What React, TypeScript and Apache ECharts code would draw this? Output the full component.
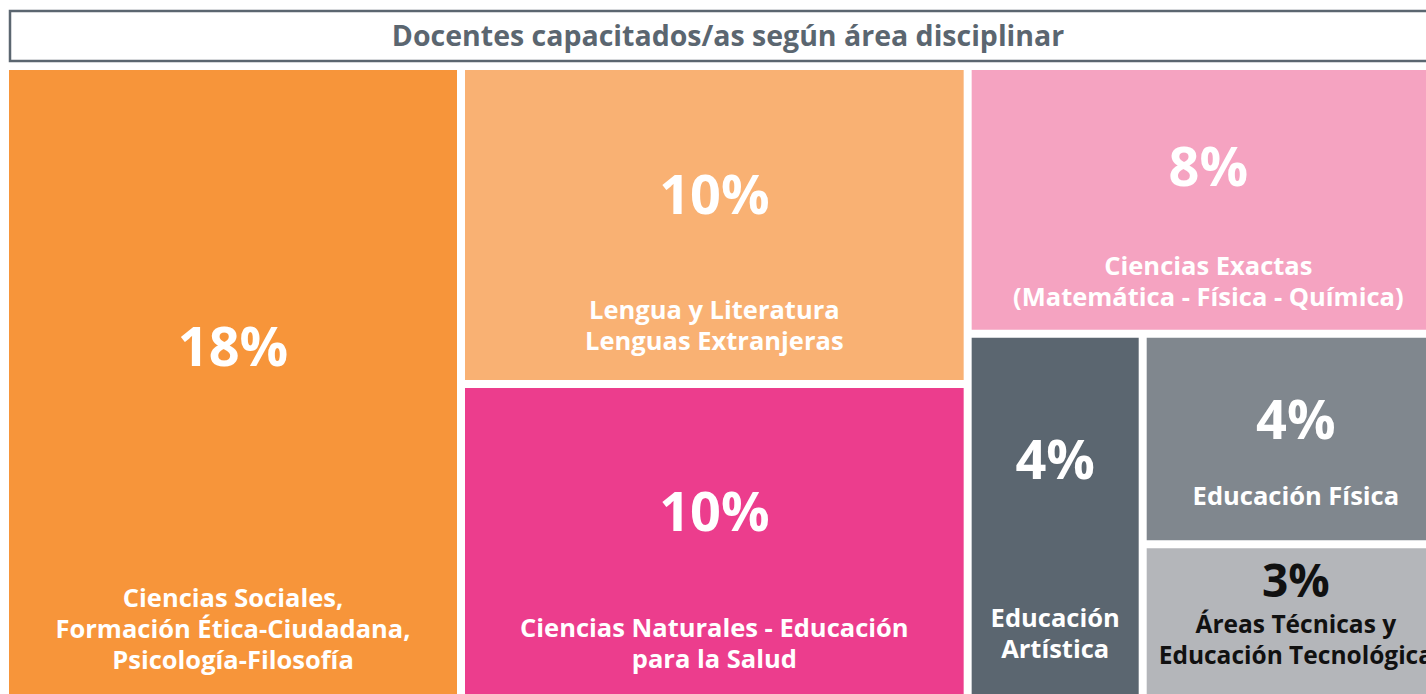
import React, { useEffect, useRef } from 'react';
import * as echarts from 'echarts';

const TITLE = 'Docentes capacitados/as según área disciplinar';

const areaNames = [
  'Ciencias Sociales,\nFormación Ética-Ciudadana,\nPsicología-Filosofía',
  'Lengua y Literatura\nLenguas Extranjeras',
  'Ciencias Naturales - Educación\npara la Salud',
  'Ciencias Exactas\n(Matemática - Física - Química)',
  'Educación\nArtística',
  'Educación Física',
  'Áreas Técnicas y\nEducación Tecnológica',
];
const percentages = [18, 10, 10, 8, 4, 4, 3];

// cell colours and text colours
const cellColors = ['#F7953A', '#F9B173', '#EC3D8D', '#F5A3C1', '#5B6670', '#80878E', '#B4B6BA'];
const darkText = [false, false, false, false, false, false, true];
// how the cells are grouped in the tiling (indices into the arrays above)
const nesting: any[] = [0, [1, 2], [3, [4, [5, 6]]]];
// vertical spacing inside each cell's label (style only)
const topSpace = [245, 93, 92, 65, 90, 50, 3.5];
const midSpace = [206, 70, 71, 54, 114, 32, 1];

const FONT = '"Open Sans", "Noto Sans", sans-serif';

function buildNode(node: any): any {
  if (typeof node === 'number') {
    return {
      name: areaNames[node].replace(/\n/g, ' '),
      value: percentages[node],
      idx: node,
      itemStyle: { color: cellColors[node], borderWidth: 4, borderColor: '#ffffff' },
    };
  }
  return {
    name: '',
    children: node.map(buildNode),
    itemStyle: { borderWidth: 0, gapWidth: 0, borderColor: '#ffffff' },
  };
}

export default function App() {
  const ref = useRef<HTMLDivElement>(null);

  useEffect(() => {
    if (!ref.current) return;
    const chart = echarts.init(ref.current, undefined, { renderer: 'svg' });

    const rich: any = {
      p: { fontSize: 54, fontWeight: 'bold', lineHeight: 60, color: '#ffffff', fontFamily: FONT },
      pd: { fontSize: 46, fontWeight: 'bold', lineHeight: 55, color: '#111111', fontFamily: FONT },
      n: { fontSize: 25.5, fontWeight: 'bold', lineHeight: 31, color: '#ffffff', fontFamily: FONT },
      nd: { fontSize: 24.5, fontWeight: 'bold', lineHeight: 31, color: '#111111', fontFamily: FONT },
    };
    topSpace.forEach((h, i) => {
      rich['t' + i] = { fontSize: 1, lineHeight: h };
      rich['s' + i] = { fontSize: 1, lineHeight: midSpace[i] };
    });

    const data = nesting.map(buildNode);

    chart.setOption({
      animation: false,
      backgroundColor: '#ffffff',
      graphic: [
        {
          type: 'rect',
          z: 10,
          shape: { x: 10, y: 11, width: 1436, height: 50 },
          style: { fill: '#ffffff', stroke: '#5B6670', lineWidth: 2.5 },
        },
        {
          type: 'text',
          z: 11,
          x: 728,
          y: 35,
          style: {
            text: TITLE,
            fill: '#5B6670',
            fontSize: 28.5,
            fontWeight: 'bold',
            fontFamily: FONT,
            align: 'center',
            verticalAlign: 'middle',
          },
        },
      ],
      series: [
        {
          type: 'treemap',
          left: 5,
          top: 66,
          width: 1444,
          height: 636,
          sort: false,
          squareRatio: 1,
          roam: false,
          nodeClick: false,
          breadcrumb: { show: false },
          itemStyle: { borderWidth: 0, gapWidth: 0, borderColor: '#ffffff' },
          upperLabel: { show: false },
          label: {
            show: true,
            position: ['50%', 0],
            align: 'center',
            verticalAlign: 'top',
            padding: 0,
            distance: 0,
            overflow: 'none',
            fontFamily: FONT,
            rich,
            formatter: (params: any) => {
              const i = params.data && params.data.idx;
              if (i == null) return '';
              const dark = darkText[i];
              const pk = dark ? 'pd' : 'p';
              const nk = dark ? 'nd' : 'n';
              const lines = areaNames[i]
                .split('\n')
                .map((l) => `{${nk}|${l}}`)
                .join('\n');
              return `{t${i}| }\n{${pk}|${percentages[i]}%}\n{s${i}| }\n${lines}`;
            },
          },
          data,
        },
      ],
    });

    return () => chart.dispose();
  }, []);

  return (
    <div
      ref={ref}
      style={{ position: 'absolute', left: 0, top: 0, width: 1426, height: 694, background: '#fff' }}
    />
  );
}
